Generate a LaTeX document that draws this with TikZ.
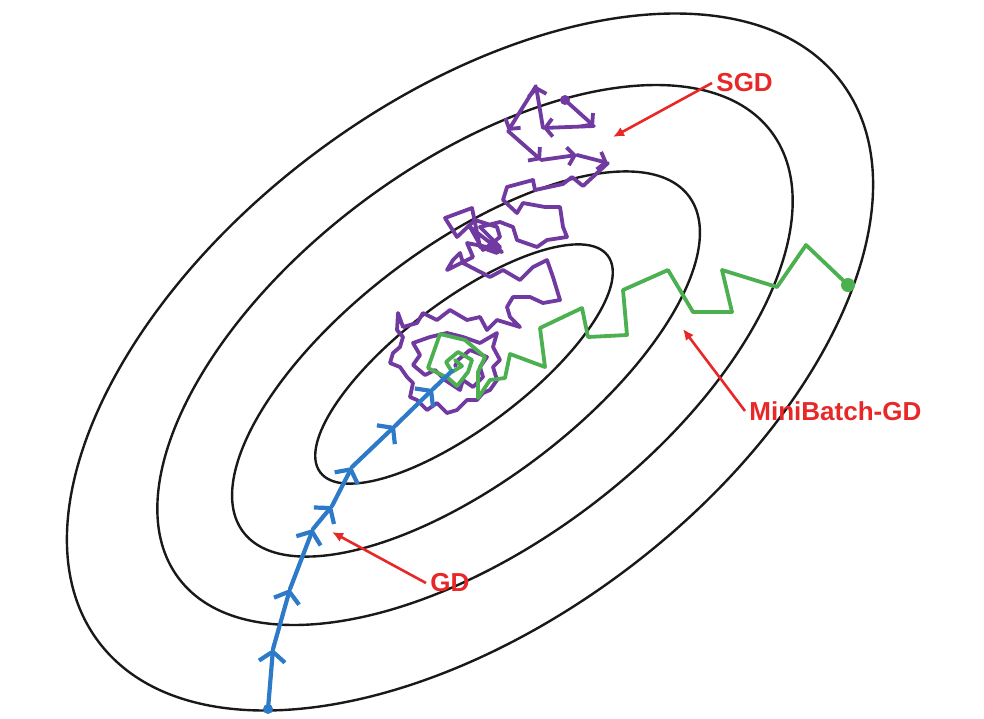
\documentclass[tikz,border=0pt]{standalone}
\usepackage{fontspec}
\setmainfont{Liberation Sans}
\usetikzlibrary{arrows.meta}
\definecolor{sgdpurple}{RGB}{112,58,160}
\definecolor{mbgreen}{RGB}{76,175,80}
\definecolor{gdblue}{RGB}{45,122,200}
\definecolor{lblred}{RGB}{232,40,40}

\begin{document}
\begin{tikzpicture}[x=0.5pt, y=-0.5pt,
	contour/.style={line width=1.2pt, black!90},
	gdstep/.style={line width=2.1pt, gdblue, line cap=round, -{Straight Barb[length=5pt, width=13pt]}},
	sgdstep/.style={line width=1.9pt, sgdpurple, line cap=round, line join=round, -{Straight Barb[length=3.5pt, width=9pt]}},
	sgdline/.style={line width=1.9pt, sgdpurple, line cap=round, line join=round},
	mbline/.style={line width=1.9pt, mbgreen, line cap=round, line join=round},
	lbl/.style={text=lblred, font=\fontsize{13}{15}\selectfont\bfseries, inner sep=2pt, anchor=west},
	lblarrow/.style={line width=1.3pt, lblred, -{Latex[length=5.5pt, width=5pt]}}]
	\useasboundingbox (0,0) rectangle (984,718);
	% contours
	\draw[contour, shift={(470,362)}, rotate=37] (0,0) ellipse [x radius=465, y radius=260];
	\draw[contour, shift={(475,355)}, rotate=37] (0,0) ellipse [x radius=371, y radius=190];
	\draw[contour, shift={(466,364)}, rotate=37] (0,0) ellipse [x radius=279, y radius=118];
	\draw[contour, shift={(464,364)}, rotate=37] (0,0) ellipse [x radius=180, y radius=63.5];
	% SGD
	\fill[sgdpurple] (565,100) circle [radius=5];
	\foreach \xa/\ya/\xb/\yb in {565/100/594/126, 594/126/543/128, 543/128/536/86, 536/86/508/131,
		508/131/541/160, 541/160/577/155, 577/155/608/163}
		\draw[sgdstep] (\xa,\ya) -- (\xb,\yb);
	\draw[sgdline] (608,163) -- (583,186) -- (572,177) -- (563,184) -- (535,190) -- (533,180) -- (507,187)
		-- (503,200) -- (517,213) -- (523,203) -- (545,207) -- (560,207) -- (563,227) -- (567,237)
		-- (547,240) -- (537,247) -- (517,240) -- (513,227) -- (500,222) -- (480,227) -- (500,247)
		-- (497,253) -- (480,247) -- (472,208) -- (445,218) -- (457,237) -- (475,220) -- (497,227)
		-- (500,237) -- (483,250) -- (470,227) -- (502,252) -- (487,247) -- (467,243) -- (473,257)
		-- (447,270) -- (453,260) -- (460,253) -- (463,263) -- (490,277) -- (503,270) -- (520,280)
		-- (533,267) -- (547,260) -- (553,277) -- (560,300) -- (543,303) -- (530,297) -- (513,297)
		-- (507,307) -- (510,317) -- (520,327) -- (497,320) -- (487,330) -- (480,317) -- (467,320)
		-- (450,310) -- (437,320) -- (423,313) -- (417,323) -- (403,327) -- (398,313) -- (397,330)
		-- (403,337) -- (400,347) -- (393,353) -- (390,363) -- (400,367) -- (407,377) -- (413,383)
		-- (410,397) -- (417,400) -- (427,410) -- (437,403) -- (447,413) -- (457,410) -- (467,400)
		-- (477,400) -- (483,393) -- (490,390) -- (497,380) -- (493,367) -- (500,360) -- (493,347)
		-- (497,333) -- (480,343) -- (463,337) -- (447,333) -- (430,337) -- (413,343) -- (420,355)
		-- (413,365) -- (425,375) -- (435,370) -- (445,380) -- (460,390) -- (463,380) -- (473,387)
		-- (483,377) -- (480,367) -- (487,357) -- (470,350) -- (458,360) -- (455,366);
	% MiniBatch-GD
	\fill[mbgreen] (848,285) circle [radius=7];
	\draw[mbline] (848,285) -- (806,245) -- (777,287) -- (722,270) -- (732,312) -- (693,312) -- (668,270)
		-- (623,290) -- (627,335) -- (588,337) -- (582,308) -- (540,328) -- (545,367) -- (510,354)
		-- (505,378) -- (490,380) -- (478,398) -- (478,372) -- (485,357) -- (465,340) -- (440,334)
		-- (428,368) -- (448,378) -- (457,386) -- (468,372) -- (472,360) -- (458,352) -- (446,362)
		-- (452,372) -- (462,366) -- (455,360);
	% GD
	\fill[gdblue] (268,709) circle [radius=5];
	\foreach \xa/\ya/\xb/\yb in {268/709/273/649, 273/649/290/589, 290/589/313/529, 313/529/332/506,
		332/506/352/467, 352/467/395/426, 395/426/433/389}
		\draw[gdstep] (\xa,\ya) -- (\xb,\yb);
	\draw[line width=2.1pt, gdblue, line cap=round] (433,389) -- (452,371);
	% labels
	\node[lbl] (sgd) at (712,83) {SGD};
	\node[lbl] (minib) at (745,411) {MiniBatch-GD};
	\node[lbl] (gd) at (426,583) {GD};
	\coordinate (sgdtip) at (613,137);
	\coordinate (minibtip) at (683,329);
	\coordinate (gdtip) at (332,532);
	\draw[lblarrow] (sgd.west) -- (sgdtip);
	\draw[lblarrow] (minib.west) -- (minibtip);
	\draw[lblarrow] (gd.west) -- (gdtip);
\end{tikzpicture}
\end{document}
